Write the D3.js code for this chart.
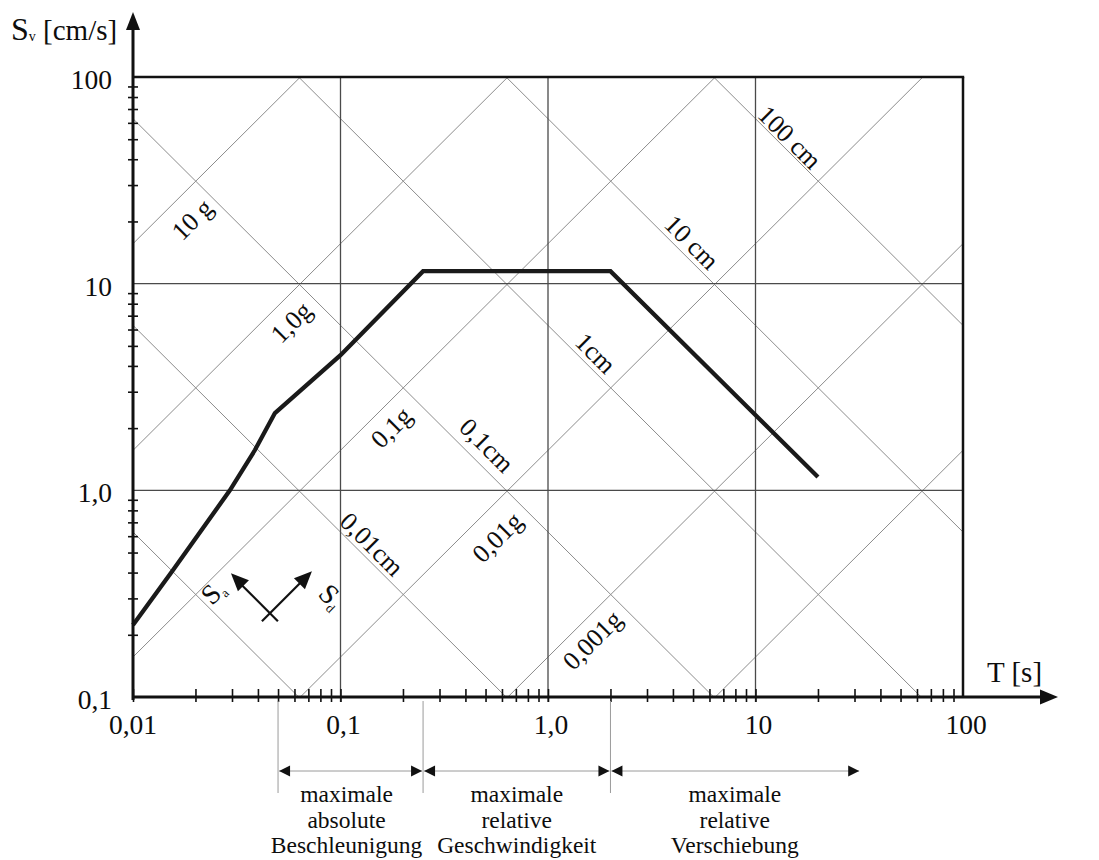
<!DOCTYPE html>
<html>
<head>
<meta charset="utf-8">
<script src="https://cdn.jsdelivr.net/npm/d3@7"></script>
<style>
  body { margin: 0; background: #fff; }
  svg text { font-family: "Liberation Serif", "Times New Roman", serif; fill: #0d0d0d; }
</style>
</head>
<body>
<script>
// periods and velocities of the axes
const tMajor = [0.01, 0.1, 1, 10, 100]
const tLabels = ["0,01", "0,1", "1,0", "10", "100"]
const svMajor = [0.1, 1, 10, 100]
const svLabels = ["0,1", "1,0", "10", "100"]

// diagonal lines: constant acceleration [g] and constant displacement [cm]
const accG = [10, 1, 0.1, 0.01, 0.001, 0.0001]
const dispCm = [100, 10, 1, 0.1, 0.01, 0.001]

// labels of the diagonal lines, placed at (T, Sv)
const accLabels = ["10 g", "1,0g", "0,1g", "0,01g", "0,001g"]
const accLabelT = [0.01925, 0.0577, 0.1751, 0.568, 1.63]
const accLabelSv = [20.5, 6.52, 2.02, 0.594, 0.189]
const dispLabels = ["100 cm", "10 cm", "1cm", "0,1cm", "0,01cm"]
const dispLabelT = [14.66, 4.94, 1.70, 0.508, 0.142]
const dispLabelSv = [51.2, 15.9, 4.62, 1.656, 0.55]

// the response spectrum
const curveT = [0.01, 0.0156, 0.0293, 0.0387, 0.0483, 0.1, 0.25, 2.0, 20]
const curveSv = [0.223, 0.412, 1.00, 1.567, 2.366, 4.51, 11.5, 11.5, 1.16]

// ranges below the axis
const rangeT = [0.05, 0.25, 2.0, 31.6]
const rangeText = [
    ["maximale", "absolute", "Beschleunigung"],
    ["maximale", "relative", "Geschwindigkeit"],
    ["maximale", "relative", "Verschiebung"]
]

const g0 = 981 // cm/s^2
const W = 1099, H = 860
const pl = 133, pr = 963, pt = 77, pb = 697

let x = d3.scaleLog().domain([0.01, 100]).range([pl, pr])
let y = d3.scaleLog().domain([0.1, 100]).range([pb, pt])

let svg = d3.select("body").append("svg").attr("width", W).attr("height", H)

svg.append("clipPath").attr("id", "plot")
    .append("rect").attr("x", pl).attr("y", pt).attr("width", pr-pl).attr("height", pb-pt)

let tAll = [0.01, 100]
let line = d3.line().x(d=>x(d[0])).y(d=>y(d[1]))

// diagonals
let diag = svg.append("g").attr("clip-path", "url(#plot)")
    .attr("fill", "none").attr("stroke", "#8c8c8c").attr("stroke-width", 1)
diag.selectAll(".acc").data(accG).enter().append("path")
    .attr("d", a=>line(tAll.map(t=>[t, a*g0*t/(2*Math.PI)])))
diag.selectAll(".disp").data(dispCm).enter().append("path")
    .attr("d", s=>line(tAll.map(t=>[t, 2*Math.PI*s/t])))

// grid
let grid = svg.append("g").attr("stroke", "#4a4a4a").attr("stroke-width", 1.3)
grid.selectAll(".gx").data(tMajor.slice(1, 4)).enter().append("line")
    .attr("x1", d=>x(d)).attr("x2", d=>x(d)).attr("y1", pt).attr("y2", pb+5)
grid.selectAll(".gy").data(svMajor.slice(1, 3)).enter().append("line")
    .attr("x1", pl).attr("x2", pr).attr("y1", d=>y(d)).attr("y2", d=>y(d))

// frame top and right
svg.append("line").attr("x1", pl).attr("x2", pr+1.2).attr("y1", y(100)).attr("y2", y(100))
    .attr("stroke", "#111").attr("stroke-width", 2.5)
svg.append("line").attr("x1", x(100)).attr("x2", x(100)).attr("y1", pt).attr("y2", pb)
    .attr("stroke", "#111").attr("stroke-width", 2.5)

// diagonal labels
svg.append("g").selectAll("text").data(accLabels).enter().append("text")
    .attr("transform", (d,i)=>`translate(${x(accLabelT[i])},${y(accLabelSv[i])}) rotate(-45)`)
    .attr("text-anchor", "middle").attr("dy", "0.35em").attr("font-size", 26)
    .text(d=>d)
svg.append("g").selectAll("text").data(dispLabels).enter().append("text")
    .attr("transform", (d,i)=>`translate(${x(dispLabelT[i])},${y(dispLabelSv[i])}) rotate(45)`)
    .attr("text-anchor", "middle").attr("dy", "0.35em").attr("font-size", 26)
    .text(d=>d)

// spectrum curve
svg.append("path")
    .attr("d", d3.line().x(d=>x(d[0])).y(d=>y(d[1]))(curveT.map((t,i)=>[t, curveSv[i]])))
    .attr("fill", "none").attr("stroke", "#1a1a1a").attr("stroke-width", 4.3)
    .attr("stroke-linejoin", "miter")

// minor ticks
let tMinor = [], svMinor = []
tMajor.slice(0, 4).forEach(d=>{ for (let k=1; k<10; k++) tMinor.push(d*k) })
svMajor.slice(0, 3).forEach(d=>{ for (let k=2; k<10; k++) svMinor.push(d*k) })

let xAxis = svg.append("g").attr("transform", `translate(0,${pb})`)
    .call(d3.axisBottom(x).tickValues(tMinor).tickFormat("").tickSizeInner(5).tickSizeOuter(0))
xAxis.select(".domain").remove()
xAxis.selectAll(".tick line").attr("y1", -8).attr("stroke", "#111").attr("stroke-width", 1.6)

let yAxis = svg.append("g").attr("transform", `translate(${pl},0)`)
    .call(d3.axisLeft(y).tickValues(svMinor).tickFormat("").tickSizeInner(5).tickSizeOuter(0))
yAxis.select(".domain").remove()
yAxis.selectAll(".tick line").attr("x1", 5).attr("x2", -5).attr("stroke", "#111").attr("stroke-width", 1.6)

// axis lines with arrows
svg.append("line").attr("x1", pl).attr("x2", 1046).attr("y1", pb).attr("y2", pb)
    .attr("stroke", "#111").attr("stroke-width", 3)
svg.append("path").attr("d", `M1058,${pb} L1040,${pb-7.5} L1040,${pb+7.5} Z`).attr("fill", "#111")
svg.append("line").attr("x1", pl).attr("x2", pl).attr("y1", pb+3).attr("y2", 24)
    .attr("stroke", "#111").attr("stroke-width", 3)
svg.append("path").attr("d", `M${pl},12 L${pl-7},30 L${pl+7},30 Z`).attr("fill", "#111")

// tick labels
svg.append("g").selectAll("text").data(tMajor).enter().append("text")
    .attr("x", (d,i)=>x(d)+(i>0?3:0)).attr("y", 734)
    .attr("text-anchor", "middle").attr("font-size", 27.5)
    .text((d,i)=>tLabels[i])
svg.append("g").selectAll("text").data(svMajor).enter().append("text")
    .attr("x", 112).attr("y", d=>y(d)+12)
    .attr("text-anchor", "end").attr("font-size", 27.5)
    .text((d,i)=>svLabels[i])

// axis titles
let yt = svg.append("text").attr("x", 11).attr("y", 40)
yt.append("tspan").attr("font-size", 32).text("S")
yt.append("tspan").attr("font-size", 14).attr("dy", 1).text("v")
yt.append("tspan").attr("font-size", 29).attr("dy", -1).text(" [cm/s]")
svg.append("text").attr("x", 987).attr("y", 682).attr("font-size", 29).text("T [s]")

// Sa / Sd indicator
let ind = svg.append("g").attr("transform", `translate(${x(0.0457)},${y(0.2515)})`)
ind.append("line").attr("x1", 8).attr("y1", 7).attr("x2", -31).attr("y2", -32)
    .attr("stroke", "#111").attr("stroke-width", 2.2)
ind.append("path").attr("d", "M-39,-41 L-21,-34 L-32,-23 Z").attr("fill", "#111")
ind.append("line").attr("x1", -8).attr("y1", 7).attr("x2", 34).attr("y2", -35)
    .attr("stroke", "#111").attr("stroke-width", 2.2)
ind.append("path").attr("d", "M42,-43 L35,-25 L24,-36 Z").attr("fill", "#111")
let sa = ind.append("text").attr("transform", "translate(-58,-8) rotate(-45)").attr("font-size", 28)
sa.append("tspan").text("S")
sa.append("tspan").attr("font-size", 13).attr("dy", 4).text("a")
let sd = ind.append("text").attr("transform", "translate(47,-19) rotate(45)").attr("font-size", 28)
sd.append("tspan").text("S")
sd.append("tspan").attr("font-size", 13).attr("dy", 4).text("d")

// ranges
let rg = svg.append("g")
rg.selectAll("line.v").data(rangeT.slice(0, 3)).enter().append("line")
    .attr("x1", d=>x(d)).attr("x2", d=>x(d)).attr("y1", pb+4).attr("y2", 793)
    .attr("stroke", "#9a9a9a").attr("stroke-width", 1)
let ay = 771
rangeText.forEach((lines, i)=>{
    let x0 = x(rangeT[i]) + 1, x1 = x(rangeT[i+1]) - (i<2?1:0)
    rg.append("line").attr("x1", x0).attr("x2", x1).attr("y1", ay).attr("y2", ay)
        .attr("stroke", "#9a9a9a").attr("stroke-width", 1)
    rg.append("path").attr("d", `M${x0},${ay} L${x0+11},${ay-5.5} L${x0+11},${ay+5.5} Z`).attr("fill", "#111")
    rg.append("path").attr("d", `M${x1},${ay} L${x1-11},${ay-5.5} L${x1-11},${ay+5.5} Z`).attr("fill", "#111")
    let cx = (x(rangeT[i]) + x(rangeT[i+1]))/2 - (i==0?4:0)
    lines.forEach((s, j)=>{
        rg.append("text").attr("x", cx).attr("y", 802 + j*25.5)
            .attr("text-anchor", "middle").attr("font-size", 23.5).text(s)
    })
})
</script>
</body>
</html>
